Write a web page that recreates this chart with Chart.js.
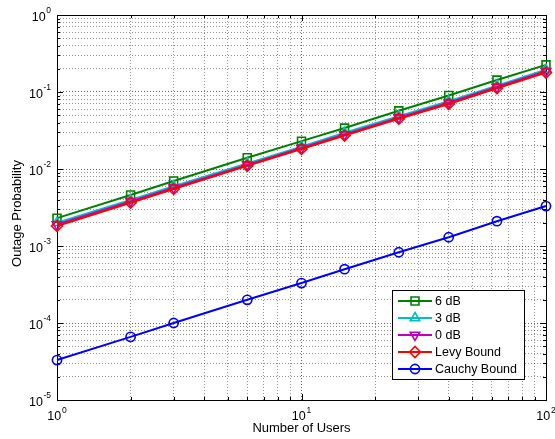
<!DOCTYPE html>
<html>
<head>
<meta charset="utf-8">
<script src="https://cdn.jsdelivr.net/npm/chart.js@4/dist/chart.umd.min.js"></script>
<style>
  html, body { margin: 0; padding: 0; background: #fff; }
  canvas { display: block; }
</style>
</head>
<body>
<canvas id="c" width="555" height="439"></canvas>
<script>
// Number of users at which the outage probability was evaluated
const users = [1, 2, 3, 6, 10, 15, 25, 40, 63, 100];

// Outage probability per curve
const snr6dB   = [2.3e-3, 4.6e-3, 7.0e-3, 1.4e-2, 2.3e-2, 3.4e-2, 5.7e-2, 9.0e-2, 0.143, 0.225];
const snr3dB   = [2.0e-3, 3.95e-3, 6.0e-3, 1.18e-2, 1.95e-2, 2.95e-2, 4.85e-2, 7.6e-2, 0.121, 0.195];
const snr0dB   = [1.9e-3, 3.8e-3, 5.7e-3, 1.13e-2, 1.87e-2, 2.8e-2, 4.65e-2, 7.25e-2, 0.116, 0.186];
const levy     = [1.82e-3, 3.65e-3, 5.5e-3, 1.1e-2, 1.82e-2, 2.72e-2, 4.5e-2, 7.0e-2, 0.112, 0.179];
const cauchy   = [3.3e-5, 6.6e-5, 1.0e-4, 2.0e-4, 3.3e-4, 5.0e-4, 8.3e-4, 1.3e-3, 2.1e-3, 3.3e-3];

// Series names
const seriesNames = ['6 dB', '3 dB', '0 dB', 'Levy Bound', 'Cauchy Bound'];

// Decade exponents labelled on each axis
const xExponents = [0, 1, 2];
const yExponents = [-5, -4, -3, -2, -1, 0];
// Minor steps inside each decade
const minorSteps = [1, 2, 3, 4, 5, 6, 7, 8, 9];

const FONT = '"Liberation Sans", Helvetica, Arial, sans-serif';

function decadeTicks(exps) {
  const out = [];
  for (let i = 0; i < exps.length - 1; i++) {
    for (const m of minorSteps) out.push(m * Math.pow(10, exps[i]));
  }
  out.push(Math.pow(10, exps[exps.length - 1]));
  return out;
}
const xTickValues = decadeTicks(xExponents);
const yTickValues = decadeTicks(yExponents);
const isDecade = v => Math.abs(Math.log10(v) - Math.round(Math.log10(v))) < 1e-9;

function series(label, values, color, style, radius, rotation, order) {
  return {
    label,
    data: users.map((u, i) => ({ x: u, y: values[i] })),
    borderColor: color,
    backgroundColor: color,
    borderWidth: 2,
    pointStyle: style,
    pointRadius: radius,
    pointRotation: rotation,
    pointBorderColor: color,
    pointBackgroundColor: 'rgba(0,0,0,0)',
    pointBorderWidth: 1.6,
    pointHoverRadius: radius,
    tension: 0,
    clip: false,
    order
  };
}

const datasets = [
  series(seriesNames[0], snr6dB, '#008000', 'rect', 5.6, 0, 5),
  series(seriesNames[1], snr3dB, '#00BFBF', 'triangle', 5.5, 0, 4),
  series(seriesNames[2], snr0dB, '#BF00BF', 'triangle', 5.5, 180, 3),
  series(seriesNames[3], levy, '#FF0000', 'rectRot', 5.5, 0, 2),
  series(seriesNames[4], cauchy, '#0000FF', 'circle', 4.6, 0, 1)
];

function drawMarker(ctx, style, radius, rotation, x, y) {
  if (Chart.helpers && Chart.helpers.drawPoint) {
    Chart.helpers.drawPoint(ctx, { pointStyle: style, radius, rotation, borderWidth: 1.6 }, x, y);
    return;
  }
  ctx.beginPath();
  ctx.arc(x, y, radius, 0, Math.PI * 2);
  ctx.stroke();
}

// Frame, inward tick marks, tick labels and axis titles
const axesDecor = {
  id: 'axesDecor',
  beforeDatasetsDraw(chart) {
    const { ctx, chartArea: a, scales: { x, y } } = chart;
    ctx.save();
    ctx.strokeStyle = '#000';
    ctx.lineWidth = 1;
    ctx.beginPath();
    for (const v of xTickValues) {
      const px = Math.round(x.getPixelForValue(v)) + 0.5;
      const len = isDecade(v) ? 6 : 3;
      ctx.moveTo(px, a.bottom); ctx.lineTo(px, a.bottom - len);
      ctx.moveTo(px, a.top); ctx.lineTo(px, a.top + len);
    }
    for (const v of yTickValues) {
      const py = Math.round(y.getPixelForValue(v)) + 0.5;
      const len = isDecade(v) ? 6 : 3;
      ctx.moveTo(a.left, py); ctx.lineTo(a.left + len, py);
      ctx.moveTo(a.right, py); ctx.lineTo(a.right - len, py);
    }
    ctx.stroke();
    ctx.strokeRect(Math.round(a.left) + 0.5, Math.round(a.top) + 0.5,
                   Math.round(a.right - a.left), Math.round(a.bottom - a.top));

    ctx.fillStyle = '#000';
    ctx.textBaseline = 'alphabetic';
    const baseFont = '12.5px ' + FONT;
    const expFont = '8.5px ' + FONT;

    // y-axis decade labels
    for (const e of yExponents) {
      const py = y.getPixelForValue(Math.pow(10, e));
      const expText = String(e);
      ctx.font = expFont;
      const ew = ctx.measureText(expText).width;
      const ex = a.left - 6 - ew;
      ctx.textAlign = 'left';
      ctx.fillText(expText, ex, py - 2);
      ctx.font = baseFont;
      ctx.textAlign = 'right';
      ctx.fillText('10', ex - 0.5, py + 6);
    }

    // x-axis decade labels
    for (const e of xExponents) {
      const px = x.getPixelForValue(Math.pow(10, e));
      const expText = String(e);
      ctx.font = baseFont;
      const bw = ctx.measureText('10').width;
      ctx.font = expFont;
      const ew = ctx.measureText(expText).width;
      const left = px - (bw + 1 + ew) / 2;
      ctx.textAlign = 'left';
      ctx.font = baseFont;
      ctx.fillText('10', left, a.bottom + 20);
      ctx.font = expFont;
      ctx.fillText(expText, left + bw + 1, a.bottom + 13);
    }

    // axis titles
    ctx.font = '13px ' + FONT;
    ctx.textAlign = 'center';
    ctx.fillText('Number of Users', (a.left + a.right) / 2, a.bottom + 32);
    ctx.save();
    ctx.translate(21, (a.top + a.bottom) / 2 + 6);
    ctx.rotate(-Math.PI / 2);
    ctx.fillText('Outage Probability', 0, 0);
    ctx.restore();
    ctx.restore();
  },
  afterDraw(chart) {
    // legend box inside the plot, lower right
    const { ctx, chartArea: a } = chart;
    const boxL = a.right - 154, boxT = a.bottom - 110, boxW = 132, boxH = 89;
    ctx.save();
    ctx.fillStyle = '#fff';
    ctx.fillRect(boxL, boxT, boxW, boxH);
    ctx.strokeStyle = '#000';
    ctx.lineWidth = 1;
    ctx.strokeRect(boxL + 0.5, boxT + 0.5, boxW, boxH);
    ctx.font = '12.5px ' + FONT;
    ctx.textBaseline = 'middle';
    ctx.textAlign = 'left';
    chart.data.datasets.forEach((ds, i) => {
      const cy = boxT + 11 + i * 17;
      ctx.strokeStyle = ds.borderColor;
      ctx.lineWidth = ds.borderWidth;
      ctx.beginPath();
      ctx.moveTo(boxL + 6, cy);
      ctx.lineTo(boxL + 40, cy);
      ctx.stroke();
      ctx.lineWidth = ds.pointBorderWidth;
      ctx.fillStyle = 'rgba(0,0,0,0)';
      drawMarker(ctx, ds.pointStyle, ds.pointRadius, ds.pointRotation, boxL + 23, cy);
      ctx.fillStyle = '#000';
      ctx.fillText(ds.label, boxL + 43, cy + 1);
    });
    ctx.restore();
  }
};

new Chart(document.getElementById('c'), {
  type: 'line',
  data: { datasets },
  options: {
    responsive: false,
    animation: false,
    events: [],
    layout: { padding: { left: 57, top: 15, right: 9, bottom: 39 } },
    plugins: { legend: { display: false }, tooltip: { enabled: false } },
    scales: {
      x: {
        type: 'logarithmic',
        min: 1, max: 100,
        afterBuildTicks: s => { s.ticks = xTickValues.map(v => ({ value: v })); },
        ticks: { display: false },
        grid: {
          drawTicks: false,
          lineWidth: 1,
          color: ctx => (ctx.tick && isDecade(ctx.tick.value)) ? 'rgba(0,0,0,0.6)' : 'rgba(0,0,0,0.42)'
        },
        border: { display: false, dash: [1, 2] }
      },
      y: {
        type: 'logarithmic',
        min: 1e-5, max: 1,
        afterBuildTicks: s => { s.ticks = yTickValues.map(v => ({ value: v })); },
        ticks: { display: false },
        grid: {
          drawTicks: false,
          lineWidth: 1,
          color: ctx => (ctx.tick && isDecade(ctx.tick.value)) ? 'rgba(0,0,0,0.6)' : 'rgba(0,0,0,0.42)'
        },
        border: { display: false, dash: [1, 2] }
      }
    }
  },
  plugins: [axesDecor]
});
</script>
</body>
</html>
